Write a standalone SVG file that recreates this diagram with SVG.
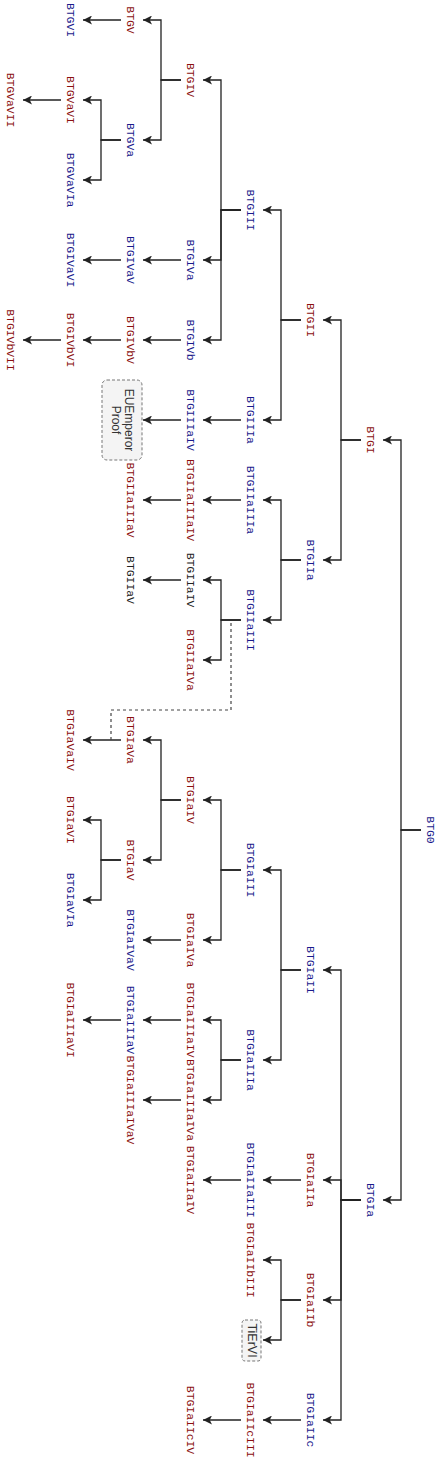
<svg xmlns="http://www.w3.org/2000/svg" width="442" height="1461" viewBox="0 0 442 1461">
<style>
text{font-family:"Liberation Mono","Courier New",monospace;font-size:11.4px;text-anchor:middle;dominant-baseline:central}
.b{fill:#1a1a8c}.r{fill:#8b1010}.k{fill:#222}
.e{fill:none;stroke:#222;stroke-width:1.3;marker-end:url(#ah)}
.d{fill:none;stroke:#444;stroke-width:1.2;stroke-dasharray:3,3}
.box{fill:#f4f4f4;stroke:#777;stroke-width:1;stroke-dasharray:3,2}
.bt{font-family:"Liberation Sans",Arial,sans-serif;font-size:12px;fill:#333}
</style>
<defs>
<marker id="ah" viewBox="0 0 10 10" refX="10" refY="5" markerWidth="9" markerHeight="9" markerUnits="userSpaceOnUse" orient="auto">
<path d="M0,0 L10,5 L0,10 L2.5,5 z" fill="#222"/>
</marker>
</defs>
<g id="connectors">
<path class="e" d="M421,830H401V440H383"/>
<path class="e" d="M421,830H401V1200H383"/>
<path class="e" d="M361,440H341V320H323"/>
<path class="e" d="M361,440H341V560H323"/>
<path class="e" d="M301,320H281V210H263"/>
<path class="e" d="M301,320H281V420H263"/>
<path class="e" d="M241,210H221V80H203"/>
<path class="e" d="M241,210H221V260H203"/>
<path class="e" d="M241,210H221V340H203"/>
<path class="e" d="M181,80H161V20H143"/>
<path class="e" d="M181,80H161V140H143"/>
<path class="e" d="M121,20H83"/>
<path class="e" d="M121,140H101V100H83"/>
<path class="e" d="M121,140H101V180H83"/>
<path class="e" d="M61,100H23"/>
<path class="e" d="M181,260H143"/>
<path class="e" d="M121,260H83"/>
<path class="e" d="M181,340H143"/>
<path class="e" d="M121,340H83"/>
<path class="e" d="M61,340H23"/>
<path class="e" d="M241,420H203"/>
<path class="e" d="M181,420H143"/>
<path class="e" d="M301,560H281V500H263"/>
<path class="e" d="M301,560H281V620H263"/>
<path class="e" d="M241,500H203"/>
<path class="e" d="M181,500H143"/>
<path class="e" d="M241,620H221V580H203"/>
<path class="e" d="M241,620H221V660H203"/>
<path class="e" d="M181,580H143"/>
<path class="e" d="M361,1200H341V970H323"/>
<path class="e" d="M361,1200H341V1180H323"/>
<path class="e" d="M361,1200H341V1300H323"/>
<path class="e" d="M361,1200H341V1420H323"/>
<path class="e" d="M301,970H281V870H263"/>
<path class="e" d="M301,970H281V1060H263"/>
<path class="e" d="M241,870H221V800H203"/>
<path class="e" d="M241,870H221V940H203"/>
<path class="e" d="M181,800H161V740H143"/>
<path class="e" d="M181,800H161V860H143"/>
<path class="e" d="M121,740H83"/>
<path class="e" d="M121,860H101V820H83"/>
<path class="e" d="M121,860H101V900H83"/>
<path class="e" d="M181,940H143"/>
<path class="e" d="M241,1060H221V1020H203"/>
<path class="e" d="M241,1060H221V1100H203"/>
<path class="e" d="M181,1020H143"/>
<path class="e" d="M121,1020H83"/>
<path class="e" d="M181,1100H143"/>
<path class="e" d="M301,1180H263"/>
<path class="e" d="M241,1180H203"/>
<path class="e" d="M301,1300H281V1260H263"/>
<path class="e" d="M301,1300H281V1340H263"/>
<path class="e" d="M301,1420H263"/>
<path class="e" d="M241,1420H203"/>
<path class="d" d="M231,623V710H111V740"/>
</g>
<g id="BTG0"><text class="b" transform="translate(430,830) rotate(90)">BTG0</text></g>
<g id="BTGI"><text class="r" transform="translate(370,440) rotate(90)">BTGI</text></g>
<g id="BTGII"><text class="r" transform="translate(310,320) rotate(90)">BTGII</text></g>
<g id="BTGIII"><text class="b" transform="translate(250,210) rotate(90)">BTGIII</text></g>
<g id="BTGIV"><text class="r" transform="translate(190,80) rotate(90)">BTGIV</text></g>
<g id="BTGV"><text class="r" transform="translate(130,20) rotate(90)">BTGV</text></g>
<g id="BTGVI"><text class="b" transform="translate(70,20) rotate(90)">BTGVI</text></g>
<g id="BTGVa"><text class="b" transform="translate(130,140) rotate(90)">BTGVa</text></g>
<g id="BTGVaVI"><text class="r" transform="translate(70,100) rotate(90)">BTGVaVI</text></g>
<g id="BTGVaVIa"><text class="b" transform="translate(70,180) rotate(90)">BTGVaVIa</text></g>
<g id="BTGVaVII"><text class="r" transform="translate(10,100) rotate(90)">BTGVaVII</text></g>
<g id="BTGIVa"><text class="b" transform="translate(190,260) rotate(90)">BTGIVa</text></g>
<g id="BTGIVaV"><text class="b" transform="translate(130,260) rotate(90)">BTGIVaV</text></g>
<g id="BTGIVaVI"><text class="b" transform="translate(70,260) rotate(90)">BTGIVaVI</text></g>
<g id="BTGIVb"><text class="b" transform="translate(190,340) rotate(90)">BTGIVb</text></g>
<g id="BTGIVbV"><text class="r" transform="translate(130,340) rotate(90)">BTGIVbV</text></g>
<g id="BTGIVbVI"><text class="r" transform="translate(70,340) rotate(90)">BTGIVbVI</text></g>
<g id="BTGIVbVII"><text class="r" transform="translate(10,340) rotate(90)">BTGIVbVII</text></g>
<g id="BTGIIIa"><text class="b" transform="translate(250,420) rotate(90)">BTGIIIa</text></g>
<g id="BTGIIIaIV"><text class="b" transform="translate(190,420) rotate(90)">BTGIIIaIV</text></g>
<g id="EUEmperorProof"><rect class="box" x="102" y="380" width="40" height="80" rx="5"/>
<text class="bt" transform="translate(128.5,420) rotate(90)">EUEmperor</text>
<text class="bt" transform="translate(115.5,420) rotate(90)">Proof</text></g>
<g id="BTGIIa"><text class="b" transform="translate(310,560) rotate(90)">BTGIIa</text></g>
<g id="BTGIIaIIIa"><text class="b" transform="translate(250,500) rotate(90)">BTGIIaIIIa</text></g>
<g id="BTGIIaIIIaIV"><text class="r" transform="translate(190,500) rotate(90)">BTGIIaIIIaIV</text></g>
<g id="BTGIIaIIIaV"><text class="r" transform="translate(130,500) rotate(90)">BTGIIaIIIaV</text></g>
<g id="BTGIIaIII"><text class="b" transform="translate(250,620) rotate(90)">BTGIIaIII</text></g>
<g id="BTGIIaIV"><text class="k" transform="translate(190,580) rotate(90)">BTGIIaIV</text></g>
<g id="BTGIIaV"><text class="k" transform="translate(130,580) rotate(90)">BTGIIaV</text></g>
<g id="BTGIIaIVa"><text class="r" transform="translate(190,660) rotate(90)">BTGIIaIVa</text></g>
<g id="BTGIa"><text class="b" transform="translate(370,1200) rotate(90)">BTGIa</text></g>
<g id="BTGIaII"><text class="b" transform="translate(310,970) rotate(90)">BTGIaII</text></g>
<g id="BTGIaIII"><text class="b" transform="translate(250,870) rotate(90)">BTGIaIII</text></g>
<g id="BTGIaIV"><text class="r" transform="translate(190,800) rotate(90)">BTGIaIV</text></g>
<g id="BTGIaVa"><text class="r" transform="translate(130,740) rotate(90)">BTGIaVa</text></g>
<g id="BTGIaVaIV"><text class="r" transform="translate(70,740) rotate(90)">BTGIaVaIV</text></g>
<g id="BTGIaV"><text class="r" transform="translate(130,860) rotate(90)">BTGIaV</text></g>
<g id="BTGIaVI"><text class="r" transform="translate(70,820) rotate(90)">BTGIaVI</text></g>
<g id="BTGIaVIa"><text class="b" transform="translate(70,900) rotate(90)">BTGIaVIa</text></g>
<g id="BTGIaIVa"><text class="r" transform="translate(190,940) rotate(90)">BTGIaIVa</text></g>
<g id="BTGIaIVaV"><text class="b" transform="translate(130,940) rotate(90)">BTGIaIVaV</text></g>
<g id="BTGIaIIIa"><text class="b" transform="translate(250,1060) rotate(90)">BTGIaIIIa</text></g>
<g id="BTGIaIIIaIV"><text class="r" transform="translate(190,1020) rotate(90)">BTGIaIIIaIV</text></g>
<g id="BTGIaIIIaV"><text class="b" transform="translate(130,1020) rotate(90)">BTGIaIIIaV</text></g>
<g id="BTGIaIIIaVI"><text class="r" transform="translate(70,1020) rotate(90)">BTGIaIIIaVI</text></g>
<g id="BTGIaIIIaIVa"><text class="r" transform="translate(190,1100) rotate(90)">BTGIaIIIaIVa</text></g>
<g id="BTGIaIIIaIVaV"><text class="r" transform="translate(130,1100) rotate(90)">BTGIaIIIaIVaV</text></g>
<g id="BTGIaIIa"><text class="r" transform="translate(310,1180) rotate(90)">BTGIaIIa</text></g>
<g id="BTGIaIIaIII"><text class="b" transform="translate(250,1180) rotate(90)">BTGIaIIaIII</text></g>
<g id="BTGIaIIaIV"><text class="r" transform="translate(190,1180) rotate(90)">BTGIaIIaIV</text></g>
<g id="BTGIaIIb"><text class="r" transform="translate(310,1300) rotate(90)">BTGIaIIb</text></g>
<g id="BTGIaIIbIII"><text class="r" transform="translate(250,1260) rotate(90)">BTGIaIIbIII</text></g>
<g id="TiErVI"><rect class="box" x="242" y="1320" width="19" height="41" rx="3"/>
<text class="bt" style="font-size:12.5px" transform="translate(251.5,1340.5) rotate(90)">TiErVI</text></g>
<g id="BTGIaIIc"><text class="b" transform="translate(310,1420) rotate(90)">BTGIaIIc</text></g>
<g id="BTGIaIIcIII"><text class="r" transform="translate(250,1420) rotate(90)">BTGIaIIcIII</text></g>
<g id="BTGIaIIcIV"><text class="r" transform="translate(190,1420) rotate(90)">BTGIaIIcIV</text></g>
</svg>
